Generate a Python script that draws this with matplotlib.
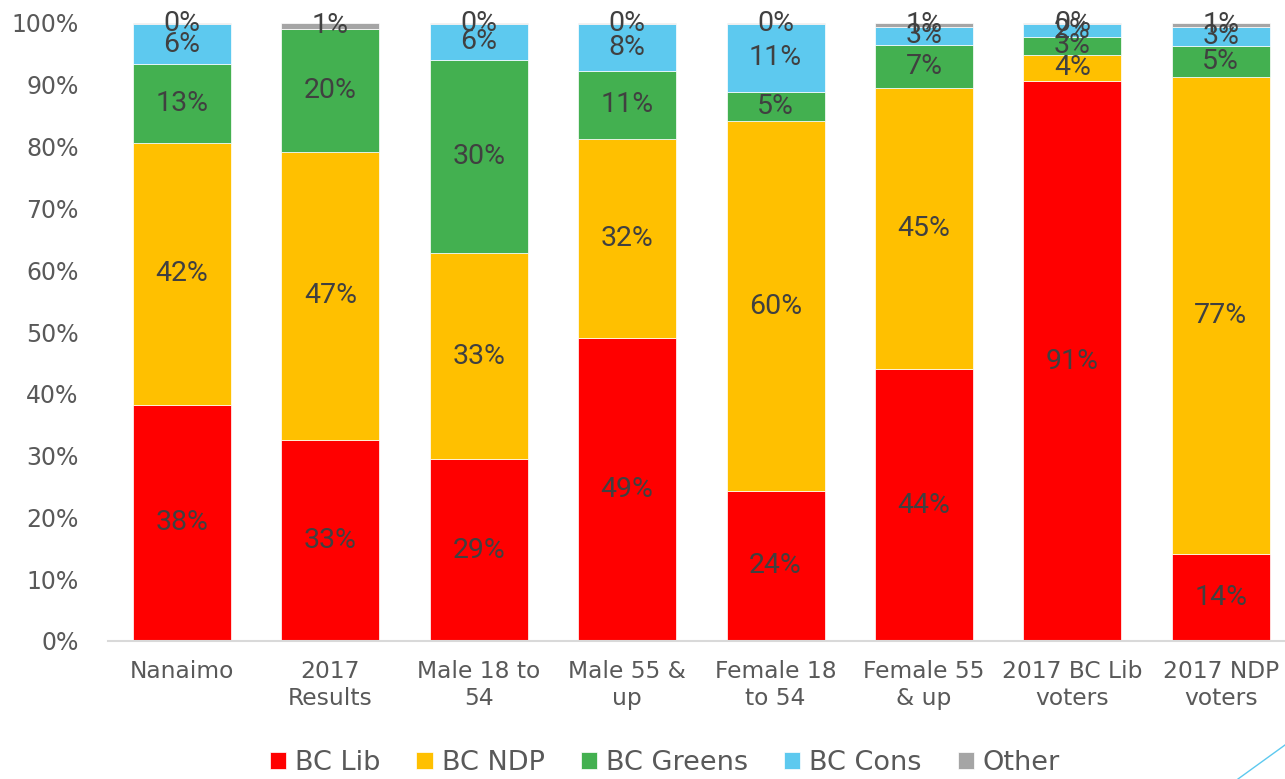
import matplotlib.pyplot as plt
import numpy as np
from matplotlib.lines import Line2D

# categories and raw shares (%), chart is a 100% stacked column
categories = ['Nanaimo', '2017\nResults', 'Male 18 to\n54', 'Male 55 &\nup',
              'Female 18\nto 54', 'Female 55\n& up', '2017 BC Lib\nvoters', '2017 NDP\nvoters']
bc_lib = [38.2, 32.6, 28.7, 49.0, 24.3, 43.8, 90.6, 14.1]
bc_ndp = [42.4, 46.6, 32.7, 32.3, 59.8, 45.4, 4.3, 77.1]
bc_greens = [12.7, 19.9, 30.4, 11.0, 4.7, 6.9, 2.9, 5.1]
bc_cons = [6.5, None, 5.8, 7.6, 11.1, 2.9, 2.1, 3.1]
other = [0.2, 0.9, 0.1, 0.1, 0.1, 0.6, 0.1, 0.6]

series = [('BC Lib', bc_lib, '#FF0000'),
          ('BC NDP', bc_ndp, '#FFC000'),
          ('BC Greens', bc_greens, '#43B050'),
          ('BC Cons', bc_cons, '#5DC9EF'),
          ('Other', other, '#A5A5A5')]

raw = np.array([[np.nan if v is None else v for v in s[1]] for s in series])
totals = np.nansum(raw, axis=0)
shares = np.nan_to_num(raw) / totals

fig = plt.figure(figsize=(12.85, 7.79), dpi=100)
ax = fig.add_axes([107.7 / 1285, 138 / 779, (1295 - 107.7) / 1285, 618 / 779])

x = np.arange(len(categories))
bottom = np.zeros(len(categories))
for i, (name, vals, color) in enumerate(series):
    ax.bar(x, shares[i], 0.66, bottom=bottom, color=color, label=name,
           edgecolor='white', linewidth=0.5)
    for j in range(len(categories)):
        if np.isnan(raw[i, j]):
            continue
        ax.text(x[j], bottom[j] + shares[i, j] / 2, f'{raw[i, j]:.0f}%',
                ha='center', va='center', fontsize=20.5, color='#404040',
                family='Roboto')
    bottom += shares[i]

ax.set_xlim(-0.5, 7.5)
ax.set_ylim(0, 1)
ax.set_yticks(np.arange(0, 1.01, 0.1))
ax.set_yticklabels([f'{int(round(t * 100))}%' for t in np.arange(0, 1.01, 0.1)])
ax.set_xticks(x)
ax.set_xticklabels(categories, linespacing=1.2)
ax.tick_params(axis='y', length=0, pad=21, labelsize=17, labelcolor='#595959')
ax.tick_params(axis='x', length=0, pad=14, labelsize=16.8, labelcolor='#595959')
for side in ['top', 'right', 'left']:
    ax.spines[side].set_visible(False)
ax.spines['bottom'].set_color('#D9D9D9')
ax.spines['bottom'].set_linewidth(1.5)

leg = fig.legend(loc='center', bbox_to_anchor=(0.5175, 16 / 779), ncol=5,
                 frameon=False, fontsize=19.5, handlelength=0.6, handleheight=0.6,
                 handletextpad=0.33, columnspacing=1.33, borderpad=0)
for t in leg.get_texts():
    t.set_color('#595959')

fig.add_artist(Line2D([1238 / 1285, 1.0], [0, 34 / 779], color='#5DC9EF', lw=1))

plt.savefig('out.png', dpi=100)
